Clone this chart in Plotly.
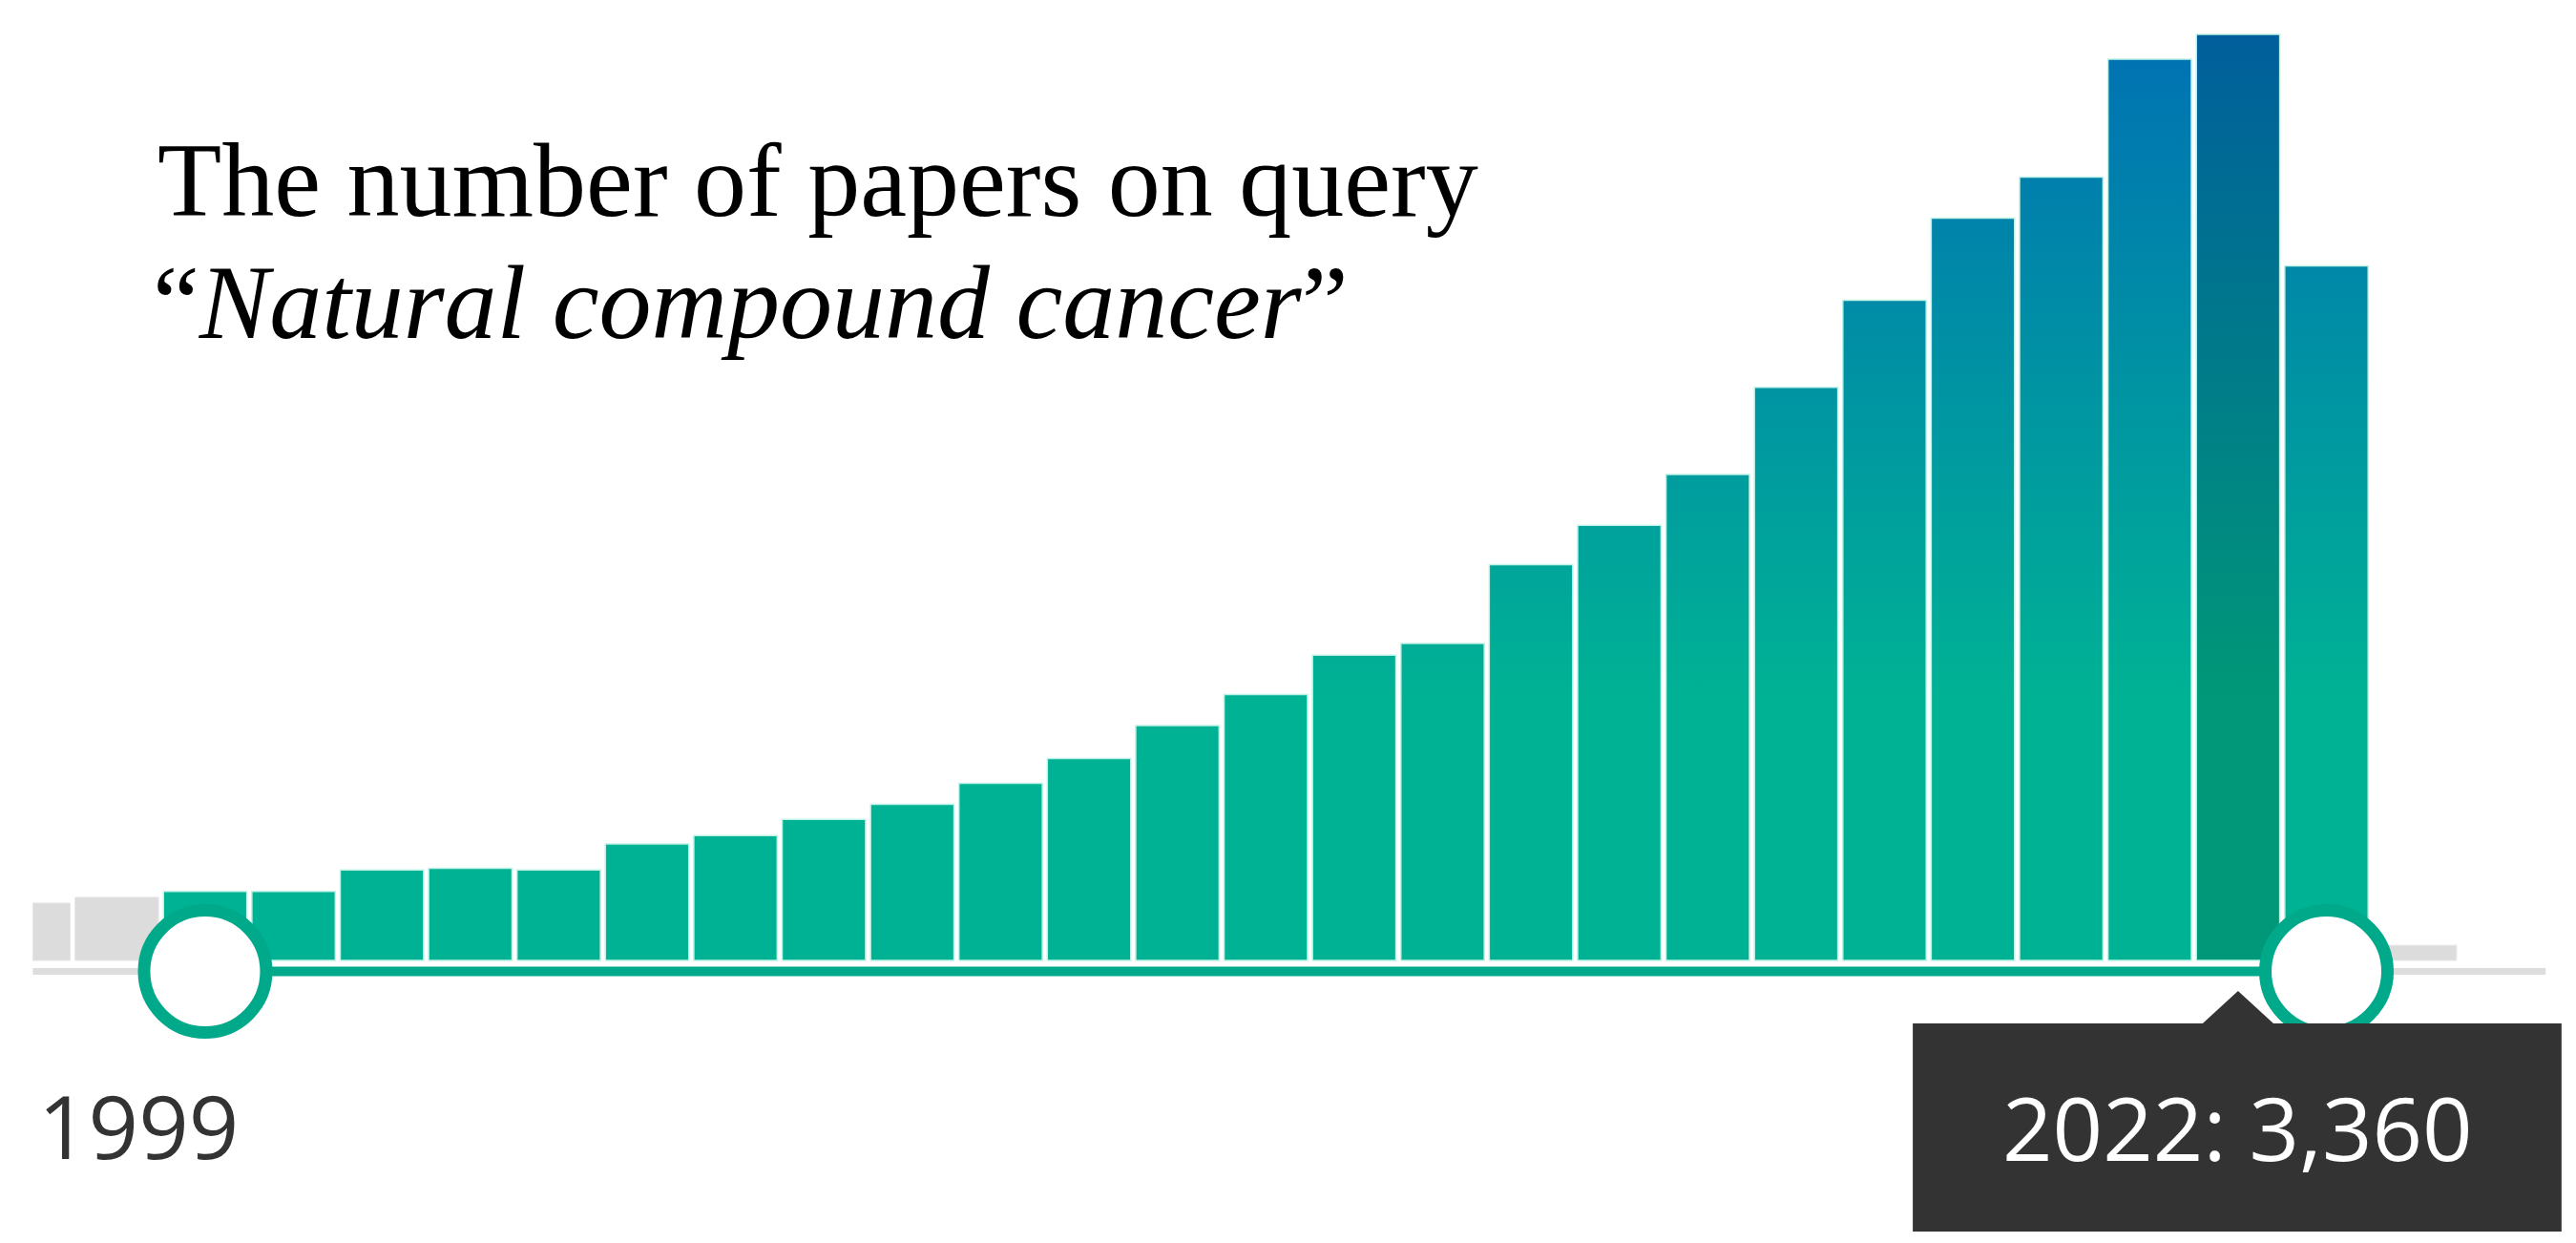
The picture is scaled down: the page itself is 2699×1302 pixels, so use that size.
import plotly.graph_objects as go

years = list(range(1999, 2024))
counts = [250, 250, 328, 334, 328, 423, 453, 512, 566, 643, 733, 852, 965, 1108, 1150,
          1436, 1579, 1763, 2079, 2395, 2693, 2842, 3270, 3360, 2520]
grey_years = [1997, 1998, 2024]
grey_counts = [208, 229, 55]
sel_start, sel_end = 1999, 2023
hover_year, hover_value = 2022, 3360
title1 = "The number of papers on query"
title2 = "“<i>Natural compound cancer</i>”"

X0, X1 = 1996.765, 2025.91
Y0, Y1 = -1053, 3457
XL, XR = 1997.05, 2025.48
HW = 0.472

fig = go.Figure()

# grey out-of-range bars
for y, v in zip(grey_years, grey_counts):
    a, b = max(y - HW, XL), min(y + HW, XR)
    fig.add_trace(go.Scatter(x=[a, a, b, b, a], y=[0, v, v, 0, 0], mode="lines", fill="toself",
                             fillcolor="#DCDCDC", line=dict(color="#E6E6E6", width=1), hoverinfo="skip"))

for y, v in zip(years, counts):
    hov = (y == hover_year)
    cs = [[0, "#009878"], [1, "#005E9C"]] if hov else [[0, "#00B294"], [1, "#0070B4"]]
    fig.add_trace(go.Scatter(x=[y - HW, y - HW, y + HW, y + HW, y - HW], y=[0, v, v, 0, 0],
                             mode="lines", fill="toself",
                             fillgradient=dict(type="vertical", colorscale=cs, start=950, stop=3400),
                             line=dict(color="#BFF2E6", width=1.5), hoverinfo="skip"))

base_y = -40
# grey baseline outside selection
fig.add_trace(go.Scatter(x=[XL, sel_start], y=[base_y, base_y], mode="lines",
                         line=dict(color="#DDDDDD", width=7), hoverinfo="skip"))
fig.add_trace(go.Scatter(x=[sel_end, XR], y=[base_y, base_y], mode="lines",
                         line=dict(color="#DDDDDD", width=7), hoverinfo="skip"))
# teal selection line
fig.add_trace(go.Scatter(x=[sel_start, sel_end], y=[base_y, base_y], mode="lines",
                         line=dict(color="#00A98A", width=10), hoverinfo="skip"))

# tooltip pointer & box
fig.add_trace(go.Scatter(x=[hover_year - 0.4, hover_year, hover_year + 0.4, hover_year - 0.4],
                         y=[-229, -111, -229, -229], mode="lines", fill="toself",
                         fillcolor="#333333", line=dict(color="#333333", width=0), hoverinfo="skip"))
fig.add_shape(type="rect", x0=2018.32, x1=2025.66, y0=-984, y1=-229, xref="x", yref="y",
              fillcolor="#333333", line=dict(width=0))

# handles
fig.add_trace(go.Scatter(x=[sel_start, sel_end], y=[base_y, base_y], mode="markers",
                         marker=dict(size=128, color="white", line=dict(color="#00A98A", width=13)),
                         hoverinfo="skip"))

fig.add_annotation(x=1998.24, y=-596, text=str(sel_start), showarrow=False,
                   font=dict(family="Open Sans", size=92, color="#333333"))
fig.add_annotation(x=hover_year, y=-606, text=f"{hover_year}: {hover_value:,}", showarrow=False,
                   font=dict(family="Open Sans", size=92, color="white"))
fig.add_annotation(x=1998.44, y=2830, text=title1, showarrow=False, xanchor="left", yanchor="middle",
                   font=dict(family="Liberation Serif", size=110, color="black"))
fig.add_annotation(x=1998.38, y=2385, text=title2, showarrow=False, xanchor="left", yanchor="middle",
                   font=dict(family="Liberation Serif", size=110, color="black"))

fig.update_layout(width=2699, height=1302, margin=dict(l=0, r=0, t=0, b=0),
                  plot_bgcolor="white", paper_bgcolor="white", showlegend=False,
                  xaxis=dict(range=[X0, X1], visible=False, fixedrange=True),
                  yaxis=dict(range=[Y0, Y1], visible=False, fixedrange=True))

fig.write_html("out.html")
